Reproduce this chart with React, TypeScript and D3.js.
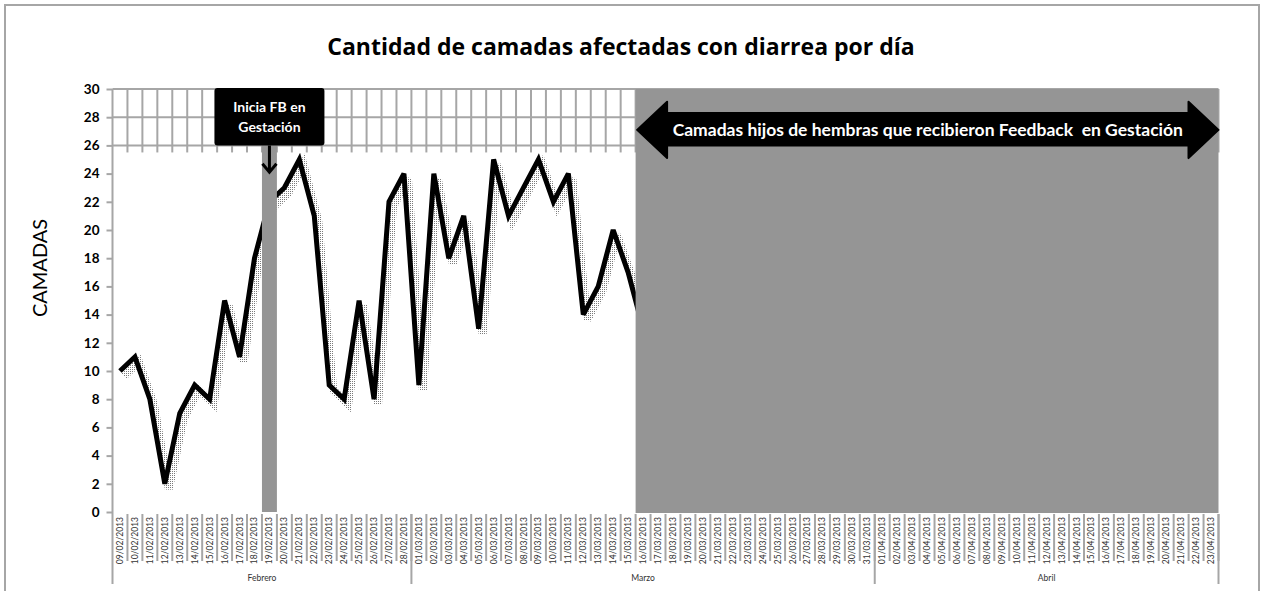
import React, { useEffect, useRef } from "react";
import * as d3 from "d3";

// Categorías: un día por punto, del 09/02/2013 al 23/04/2013
const dias = d3.timeDay.range(new Date(2013, 1, 9), new Date(2013, 3, 24));
const fmtDia = d3.timeFormat("%d/%m/%Y");
const etiquetasDias = dias.map((d) => fmtDia(d));

const meses = [
  { nombre: "Febrero", desde: "09/02/2013", hasta: "28/02/2013" },
  { nombre: "Marzo", desde: "01/03/2013", hasta: "31/03/2013" },
  { nombre: "Abril", desde: "01/04/2013", hasta: "23/04/2013" },
];

// camadas con diarrea (lo que queda a la derecha esta tapado por el sombreado)
const camadas = [
  10, 11, 8, 2, 7, 9, 8, 15, 11, 18, 22, 23, 25, 21, 9, 8, 15, 8, 22, 24,
  9, 24, 18, 21, 13, 25, 21, 23, 25, 22, 24, 14, 16, 20, 17, 13,
];

const yTicks = d3.range(0, 31, 2);
const gridTicks = [26, 28, 30];
const inicioFB = "19/02/2013";
const inicioHijos = "16/03/2013";

const W = 1264;
const H = 591;
const FONT = "Lato, 'Open Sans', sans-serif";

export default function App() {
  const ref = useRef<SVGSVGElement | null>(null);

  useEffect(() => {
    document.body.style.margin = "0";
    document.body.style.overflow = "hidden";

    const svg = d3.select(ref.current);
    svg.selectAll("*").remove();

    const x = d3.scaleBand<string>().domain(etiquetasDias).range([112.5, 1218.5]).padding(0);
    const y = d3.scaleLinear().domain([0, 30]).range([512, 89]);
    const bw = x.bandwidth();

    const defs = svg.append("defs");
    const pat = defs
      .append("pattern")
      .attr("id", "puntos")
      .attr("width", 2)
      .attr("height", 2)
      .attr("patternUnits", "userSpaceOnUse");
    pat.append("rect").attr("width", 1).attr("height", 1).attr("fill", "#7a7a7a");

    // marco exterior
    svg
      .append("rect")
      .attr("x", 5)
      .attr("y", 5)
      .attr("width", 1254)
      .attr("height", 620)
      .attr("fill", "#fff")
      .attr("stroke", "#a6a6a6")
      .attr("stroke-width", 2);

    // titulo
    svg
      .append("text")
      .attr("x", 621)
      .attr("y", 55)
      .attr("text-anchor", "middle")
      .style("font-family", "'Open Sans', Lato, sans-serif")
      .style("font-weight", "bold")
      .style("font-size", "23px")
      .text("Cantidad de camadas afectadas con diarrea por día");

    // grilla (solo visible arriba)
    const grid = svg.append("g").attr("stroke", "#a6a6a6").attr("stroke-width", 2);
    grid
      .selectAll("line.h")
      .data(gridTicks)
      .join("line")
      .attr("class", "h")
      .attr("x1", 112.5)
      .attr("x2", 1218.5)
      .attr("y1", (d) => y(d))
      .attr("y2", (d) => y(d));
    grid
      .selectAll("line.v")
      .data(etiquetasDias)
      .join("line")
      .attr("class", "v")
      .attr("x1", (d) => x(d)! + bw)
      .attr("x2", (d) => x(d)! + bw)
      .attr("y1", y(30))
      .attr("y2", y(25.5));

    // eje Y
    const yAxis = svg
      .append("g")
      .attr("transform", "translate(112.5,0)")
      .call(d3.axisLeft(y).tickValues(yTicks).tickSize(6).tickPadding(7));
    yAxis.select(".domain").remove();
    yAxis.selectAll(".tick line").attr("stroke", "#a6a6a6").attr("stroke-width", 2);
    yAxis
      .selectAll(".tick text")
      .style("font-family", FONT)
      .style("font-weight", "bold")
      .style("font-size", "13.5px")
      .attr("fill", "#000");
    svg
      .append("line")
      .attr("x1", 112.5)
      .attr("x2", 112.5)
      .attr("y1", y(30))
      .attr("y2", 584)
      .attr("stroke", "#a6a6a6")
      .attr("stroke-width", 2);

    svg
      .append("text")
      .attr("transform", `translate(47, 268) rotate(-90)`)
      .attr("text-anchor", "middle")
      .style("font-family", FONT)
      .style("font-size", "20px")
      .text("CAMADAS");

    // eje X: etiquetas de dias y separadores
    const xg = svg.append("g");
    xg.selectAll("line.sep")
      .data(etiquetasDias)
      .join("line")
      .attr("class", "sep")
      .attr("x1", (d) => x(d)! + bw)
      .attr("x2", (d) => x(d)! + bw)
      .attr("y1", 514)
      .attr("y2", 561)
      .attr("stroke", "#a6a6a6")
      .attr("stroke-width", 2);
    xg.selectAll("text")
      .data(etiquetasDias)
      .join("text")
      .attr("transform", (d) => `translate(${x(d)! + bw / 2 + 3}, 517) rotate(-90)`)
      .attr("text-anchor", "end")
      .style("font-family", FONT)
      .style("font-size", "8.5px")
      .attr("fill", "#333")
      .text((d) => d);

    const mg = svg.append("g");
    mg.selectAll("line")
      .data(meses)
      .join("line")
      .attr("x1", (d) => x(d.hasta)! + bw)
      .attr("x2", (d) => x(d.hasta)! + bw)
      .attr("y1", 514)
      .attr("y2", 584)
      .attr("stroke", "#a6a6a6")
      .attr("stroke-width", 2);
    mg.selectAll("text")
      .data(meses)
      .join("text")
      .attr("x", (d) => (x(d.desde)! + x(d.hasta)! + bw) / 2)
      .attr("y", 581)
      .attr("text-anchor", "middle")
      .style("font-family", FONT)
      .style("font-size", "8.5px")
      .attr("fill", "#333")
      .text((d) => d.nombre);

    // serie
    const linea = d3
      .line<number>()
      .x((_, i) => x(etiquetasDias[i])! + bw / 2)
      .y((d) => y(d));

    svg
      .append("path")
      .attr("d", linea(camadas))
      .attr("transform", "translate(4,5)")
      .attr("fill", "none")
      .attr("stroke", "url(#puntos)")
      .attr("stroke-width", 8)
      .attr("stroke-linejoin", "miter")
      .attr("stroke-miterlimit", 3);
    svg
      .append("path")
      .attr("d", linea(camadas))
      .attr("fill", "none")
      .attr("stroke", "#000")
      .attr("stroke-width", 5)
      .attr("stroke-linejoin", "miter")
      .attr("stroke-miterlimit", 3);

    // sombreados
    svg
      .append("rect")
      .attr("x", x(inicioFB)!)
      .attr("y", y(26))
      .attr("width", bw)
      .attr("height", y(0) - y(26))
      .attr("fill", "#959595");
    svg
      .append("rect")
      .attr("x", x(inicioHijos)!)
      .attr("y", y(30))
      .attr("width", 1218.5 - x(inicioHijos)!)
      .attr("height", y(0) - y(30) + 1)
      .attr("fill", "#959595");

    // caja "Inicia FB en Gestación"
    const cx = x(inicioFB)! + bw / 2;
    svg
      .append("rect")
      .attr("x", cx - 55)
      .attr("y", y(30) - 1)
      .attr("width", 110)
      .attr("height", y(26) - y(30) + 1)
      .attr("rx", 3)
      .attr("fill", "#000");
    svg
      .append("text")
      .attr("x", cx)
      .attr("y", 112)
      .attr("text-anchor", "middle")
      .attr("fill", "#fff")
      .style("font-family", FONT)
      .style("font-weight", "bold")
      .style("font-size", "14px")
      .text("Inicia FB en");
    svg
      .append("text")
      .attr("x", cx)
      .attr("y", 132)
      .attr("text-anchor", "middle")
      .attr("fill", "#fff")
      .style("font-family", FONT)
      .style("font-weight", "bold")
      .style("font-size", "14px")
      .text("Gestación");
    svg
      .append("path")
      .attr("d", `M${cx},${y(26)} V${y(24.1)} M${cx - 7},${y(24.7)} L${cx},${y(24.1)} L${cx + 7},${y(24.7)}`)
      .attr("fill", "none")
      .attr("stroke", "#000")
      .attr("stroke-width", 3);

    // flecha doble
    const xl = x(inicioHijos)! + 1.5;
    const xr = 1218.5;
    const ym = y(27.1);
    const head = 30;
    const bodyT = y(28.3);
    const bodyB = y(26.0);
    const headT = y(29.1);
    const headB = y(25.1);
    svg
      .append("path")
      .attr(
        "d",
        `M${xl},${ym} L${xl + head},${headT} V${bodyT} H${xr - head} V${headT} L${xr},${ym} L${xr - head},${headB} V${bodyB} H${xl + head} V${headB} Z`
      )
      .attr("fill", "#000")
      .attr("stroke", "#000")
      .attr("stroke-width", 2)
      .attr("stroke-linejoin", "round");
    svg
      .append("text")
      .attr("x", (xl + xr) / 2)
      .attr("y", ym + 6)
      .attr("text-anchor", "middle")
      .attr("fill", "#fff")
      .style("font-family", FONT)
      .style("font-weight", "bold")
      .style("font-size", "17.5px")
      .style("white-space", "pre")
      .text("Camadas hijos de hembras que recibieron Feedback  en Gestación");
  }, []);

  return <svg ref={ref} width={W} height={H} style={{ display: "block" }} />;
}
